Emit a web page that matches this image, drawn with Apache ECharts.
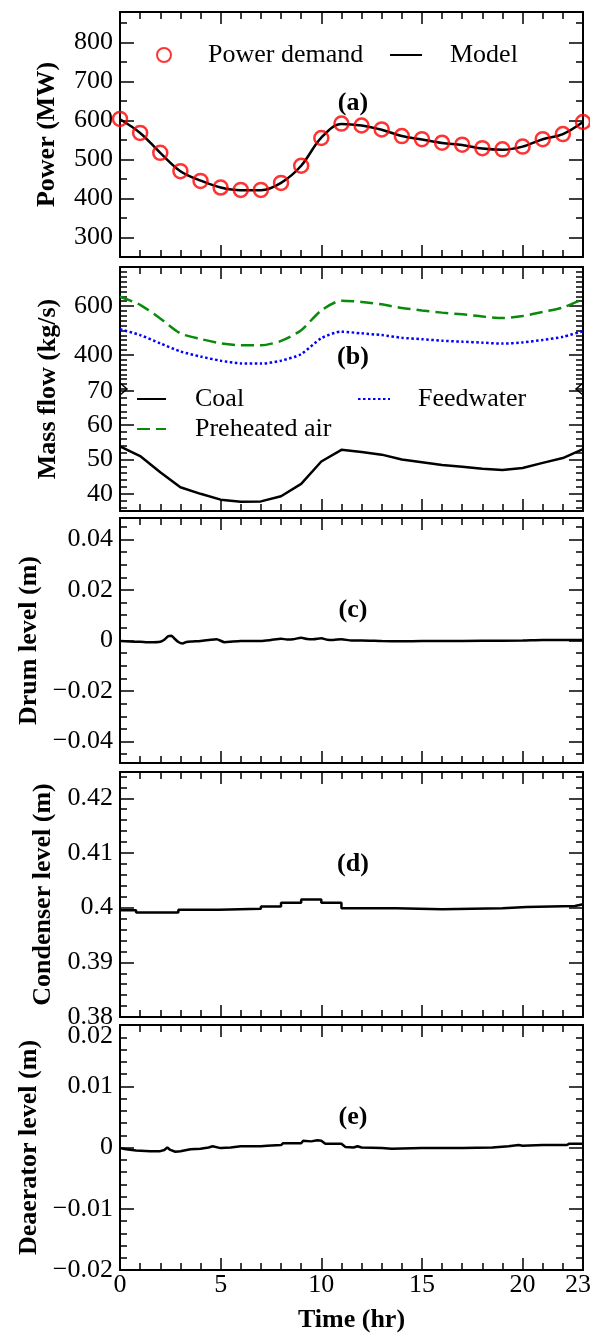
<!DOCTYPE html>
<html><head><meta charset="utf-8">
<script src="https://cdn.jsdelivr.net/npm/echarts@6/dist/echarts.min.js"></script>
<style>html,body{margin:0;padding:0;background:#fff}#c{width:590px;height:1333px}</style>
</head><body><div id="c"></div>
<script>
// ---------------- data ----------------
const hours = [0,1,2,3,4,5,6,7,8,9,10,11,12,13,14,15,16,17,18,19,20,21,22,23];
const powerDemand = [604,568,517,470,445,428,422,422,440,484,555,592,587,577,560,552,543,538,529,526,533,552,565,596];
const powerModel  = [603,568,517,470,446,428,421,421,440,484,556,591,587,576,560,551,542,537,528,525,533,552,565,596];
const airFlow       = [638,605,549,488,465,447,439,439,457,501,582,622,617,607,592,582,573,566,557,551,559,576,594,628];
const feedwaterFlow = [505,481,447,414,393,376,365,364,376,403,468,495,488,481,470,464,458,454,450,446,451,461,474,497];
const coalFlow      = [53.8,51.0,46.3,41.9,40.0,38.3,37.7,37.8,39.3,42.9,49.4,52.8,52.2,51.4,50.0,49.2,48.4,47.9,47.3,46.9,47.5,49.0,50.4,53.0];

const drumTime  = [0,0.5,1,1.5,2,2.2,2.4,2.55,2.7,2.9,3.1,3.3,3.6,4,4.5,4.8,5.2,5.6,6,7,7.5,8,8.3,8.6,9,9.3,9.6,10,10.3,10.6,11,11.5,12,13,14,15,16,18,20,21,22,23];
const drumLevel = [-0.0002,-0.0004,-0.0005,-0.0007,-0.0005,0.0003,0.0017,0.0019,0.0008,-0.0006,-0.0012,-0.0006,-0.0004,-0.0002,0.0003,0.0005,-0.0007,-0.0004,-0.0002,-0.0002,0.0002,0.0007,0.0004,0.0005,0.0011,0.0006,0.0005,0.0009,0.0003,0.0002,0.0005,0.0000,0.0000,-0.0002,-0.0003,-0.0002,-0.0002,-0.0001,0.0000,0.0002,0.0002,0.0002];

const condTime  = [0,0.8,2.9,4.9,7.0,8.0,9.0,10.0,11.0,13.7,16.0,19.0,20.2,22.6,23];
const condLevel = [0.3995,0.3991,0.3996,0.3998,0.4002,0.4009,0.4015,0.4009,0.3999,0.3997,0.3999,0.4001,0.4003,0.4006,0.4006];

const deaTime  = [0,0.3,0.8,1.5,2.0,2.2,2.35,2.5,2.75,3.0,3.5,4.0,4.4,4.6,5.0,5.5,6.0,7.0,7.3,8.0,8.1,9.0,9.1,9.5,9.8,10.0,10.2,11.0,11.2,11.6,11.8,12.0,13.0,13.5,15,17,18.5,19.3,19.8,20.0,21,22.2,22.3,23];
const deaLevel = [-0.0001,-0.0003,-0.0005,-0.0006,-0.0006,-0.0004,0.0000,-0.0004,-0.0007,-0.0006,-0.0003,-0.0002,0.0000,0.0002,-0.0001,0.0000,0.0002,0.0002,0.0003,0.0004,0.0007,0.0007,0.0011,0.0010,0.0012,0.0011,0.0006,0.0006,0.0001,0.0000,0.0002,0.0000,-0.0001,-0.0002,-0.0001,-0.0001,0.0000,0.0002,0.0004,0.0003,0.0004,0.0004,0.0006,0.0006];

const xTickLabels = [0,5,10,15,20,23];
const xMajorTicks = [0,5,10,15,20];
const powerTicks = [300,400,500,600,700,800];
const airTicks   = [400,600];
const coalTicks  = [40,50,60,70];
const drumTicks  = [-0.04,-0.02,0,0.02,0.04];
const condTicks  = [0.38,0.39,0.4,0.41,0.42];
const deaTicks   = [-0.02,-0.01,0,0.01,0.02];

// ---------------- layout ----------------
const FONT = 'Liberation Serif';
const FS = 26;
const LEFT = 120, RIGHT = 7;
const LW = 2.5;
const panels = [
  {top:12,   height:245, min:250,     max:878,    major:powerTicks, step:50,    name:'Power (MW)'},
  {top:267,  height:122, min:260,     max:760,    major:airTicks,   step:20,    noBottom:true},
  {top:389,  height:122, min:35,      max:70.5,   major:coalTicks,  step:2,     noTop:true},
  {top:518,  height:245, min:-0.0485, max:0.0485, major:drumTicks,  step:0.005, name:'Drum level (m)'},
  {top:772,  height:245, min:0.38,    max:0.4248, major:condTicks,  step:0.002, name:'Condenser level (m)'},
  {top:1025, height:245, min:-0.02,   max:0.02,   major:deaTicks,   step:0.002, name:'Deaerator level (m)', xLabels:true, topPad:true}
];

function minorList(min, max, step, majors) {
  const out = [];
  const k0 = Math.ceil(min/step - 1e-9), k1 = Math.floor(max/step + 1e-9);
  for (let k = k0; k <= k1; k++) {
    const v = +(k*step).toFixed(6);
    if (!majors.some(m => Math.abs(m - v) < step*1e-3)) out.push(v);
  }
  return out;
}
function fmt(v) {
  const a = +Math.abs(v).toFixed(4);
  return (v < -1e-12 ? '\u2212' : '') + a;
}
const xMinorTicks = hours.filter(h => xMajorTicks.indexOf(h) < 0 && h < 23);

const black = '#000';
const grids = [], xAxes = [], yAxes = [];
panels.forEach((p, gi) => {
  grids.push({left: LEFT, right: RIGHT, top: p.top, height: p.height, outerBoundsMode: 'none', containLabel: false});
  const minors = minorList(p.min, p.max, p.step, p.major);
  [['bottom', true], ['bottom', false], ['top', true], ['top', false]].forEach(([pos, maj]) => {
    const hidden = (pos === 'bottom' && p.noBottom) || (pos === 'top' && p.noTop);
    const ax = {
      type: 'value', gridIndex: gi, min: 0, max: 23, position: pos,
      axisLine: {show: maj && !hidden, onZero: false, lineStyle: {color: black, width: 2}},
      splitLine: {show: false},
      axisTick: {show: !hidden, inside: true, length: maj ? 12 : 7, lineStyle: {color: black, width: 1.5},
                 customValues: maj ? xMajorTicks : xMinorTicks},
      axisLabel: {show: false}
    };
    if (p.xLabels && pos === 'bottom' && maj) {
      ax.axisLabel = {show: true, customValues: xTickLabels, fontSize: FS, fontFamily: FONT, color: black, margin: 2,
                      formatter: v => v === 23 ? '{r|23}' : String(v),
                      rich: {r: {fontSize: FS, fontFamily: FONT, color: black, padding: [0, 10, 0, 0]}}};
      ax.name = 'Time (hr)'; ax.nameLocation = 'middle'; ax.nameGap = 37;
      ax.nameTextStyle = {fontSize: FS, fontFamily: FONT, fontWeight: 'bold', color: black};
    }
    xAxes.push(ax);
  });
  [['left', true], ['left', false], ['right', true], ['right', false]].forEach(([pos, maj]) => {
    const ax = {
      type: 'value', gridIndex: gi, min: p.min, max: p.max, position: pos,
      axisLine: {show: maj, onZero: false, lineStyle: {color: black, width: 2}},
      splitLine: {show: false},
      axisTick: {show: true, inside: true, length: maj ? 14 : 7, lineStyle: {color: black, width: 1.5},
                 customValues: maj ? p.major : minors},
      axisLabel: {show: false}
    };
    if (pos === 'left' && maj) {
      ax.axisLabel = {show: true, customValues: p.major, fontSize: FS, fontFamily: FONT, color: black, margin: 7,
        formatter: v => (p.topPad && Math.abs(v - p.max) < 1e-9) ? '{t|' + fmt(v) + '}' : fmt(v),
        rich: {t: {fontSize: FS, fontFamily: FONT, color: black, padding: [22, 0, 0, 0]}}};
      if (p.name) {
        ax.name = p.name; ax.nameLocation = 'middle'; ax.nameGap = 60; ax.nameRotate = 90;
        ax.nameTextStyle = {fontSize: FS, fontFamily: FONT, fontWeight: 'bold', color: black};
      }
    }
    yAxes.push(ax);
  });
});

const zip = (a, b) => a.map((v, i) => [v, b[i]]);

const series = [
  {name: 'Model', type: 'line', xAxisIndex: 0, yAxisIndex: 0, data: zip(hours, powerModel),
   smooth: 0.35, symbol: 'none', lineStyle: {color: black, width: LW}, itemStyle: {color: black}, z: 2},
  {name: 'Power demand', type: 'scatter', xAxisIndex: 0, yAxisIndex: 0, data: zip(hours, powerDemand),
   symbol: 'circle', symbolSize: 14,
   itemStyle: {color: 'rgba(0,0,0,0)', borderColor: '#ff0000', borderWidth: 2.5}, z: 3},
  {name: 'Preheated air', type: 'line', xAxisIndex: 4, yAxisIndex: 4, data: zip(hours, airFlow),
   smooth: 0.25, symbol: 'none', lineStyle: {color: '#0a8a0a', width: 2.5, type: [13, 6]}, itemStyle: {color: '#0a8a0a'}},
  {name: 'Feedwater', type: 'line', xAxisIndex: 4, yAxisIndex: 4, data: zip(hours, feedwaterFlow),
   smooth: 0.25, symbol: 'none', lineStyle: {color: '#0000ff', width: 2.5, type: [2.5, 2.5]}, itemStyle: {color: '#0000ff'}},
  {name: 'Coal', type: 'line', xAxisIndex: 8, yAxisIndex: 8, data: zip(hours, coalFlow),
   symbol: 'none', lineStyle: {color: black, width: LW}, itemStyle: {color: black}},
  {name: 'Drum level', type: 'line', xAxisIndex: 12, yAxisIndex: 12, data: zip(drumTime, drumLevel),
   symbol: 'none', smooth: 0.2, lineStyle: {color: black, width: LW}},
  {name: 'Condenser level', type: 'line', xAxisIndex: 16, yAxisIndex: 16, data: zip(condTime, condLevel),
   symbol: 'none', step: 'end', lineStyle: {color: black, width: LW}},
  {name: 'Deaerator level', type: 'line', xAxisIndex: 20, yAxisIndex: 20, data: zip(deaTime, deaLevel),
   symbol: 'none', lineStyle: {color: black, width: LW}}
];

const legTxt = pad => ({fontSize: FS, fontFamily: FONT, color: black, padding: [0, 0, 0, pad]});
const noSym = {opacity: 0};
const legend = [
  {data: ['Power demand'], left: 151, top: 37, itemWidth: 14, itemHeight: 14, selectedMode: false, textStyle: legTxt(32)},
  {data: ['Model'], left: 384, top: 37, itemWidth: 32, itemHeight: 14, selectedMode: false, textStyle: legTxt(23), itemStyle: noSym},
  {data: ['Coal'], left: 131, top: 381, itemWidth: 29, itemHeight: 14, selectedMode: false, textStyle: legTxt(24), itemStyle: noSym},
  {data: ['Feedwater'], left: 352, top: 381, itemWidth: 32, itemHeight: 14, selectedMode: false, textStyle: legTxt(23), itemStyle: noSym},
  {data: ['Preheated air'], left: 131, top: 411, itemWidth: 29, itemHeight: 14, selectedMode: false, textStyle: legTxt(24), itemStyle: noSym}
];

const panelLabels = ['(a)', '(b)', '(c)', '(d)', '(e)'];
const labelY = [103, 357, 610, 864, 1117];
const graphic = panelLabels.map((t, i) => ({
  type: 'text', x: 353, y: labelY[i],
  style: {text: t, fontSize: FS, fontFamily: FONT, fontWeight: 'bold', fill: black, align: 'center', verticalAlign: 'middle'}
}));
graphic.push({type: 'text', x: 48, y: 389, rotation: Math.PI / 2,
  style: {text: 'Mass flow (kg/s)', fontSize: FS, fontFamily: FONT, fontWeight: 'bold', fill: black, align: 'center', verticalAlign: 'middle'}});
const bx = 389;
graphic.push({type: 'polyline', shape: {points: [[LEFT, bx - 6], [LEFT + 7, bx], [LEFT, bx + 6]]}, style: {stroke: black, lineWidth: 1.5, fill: null}, z: 10});
graphic.push({type: 'polyline', shape: {points: [[590 - RIGHT, bx - 6], [590 - RIGHT - 7, bx], [590 - RIGHT, bx + 6]]}, style: {stroke: black, lineWidth: 1.5, fill: null}, z: 10});

const chart = echarts.init(document.getElementById('c'), null, {renderer: 'canvas'});
chart.setOption({
  animation: false,
  backgroundColor: '#fff',
  grid: grids, xAxis: xAxes, yAxis: yAxes, series, legend, graphic
});
</script></body></html>
